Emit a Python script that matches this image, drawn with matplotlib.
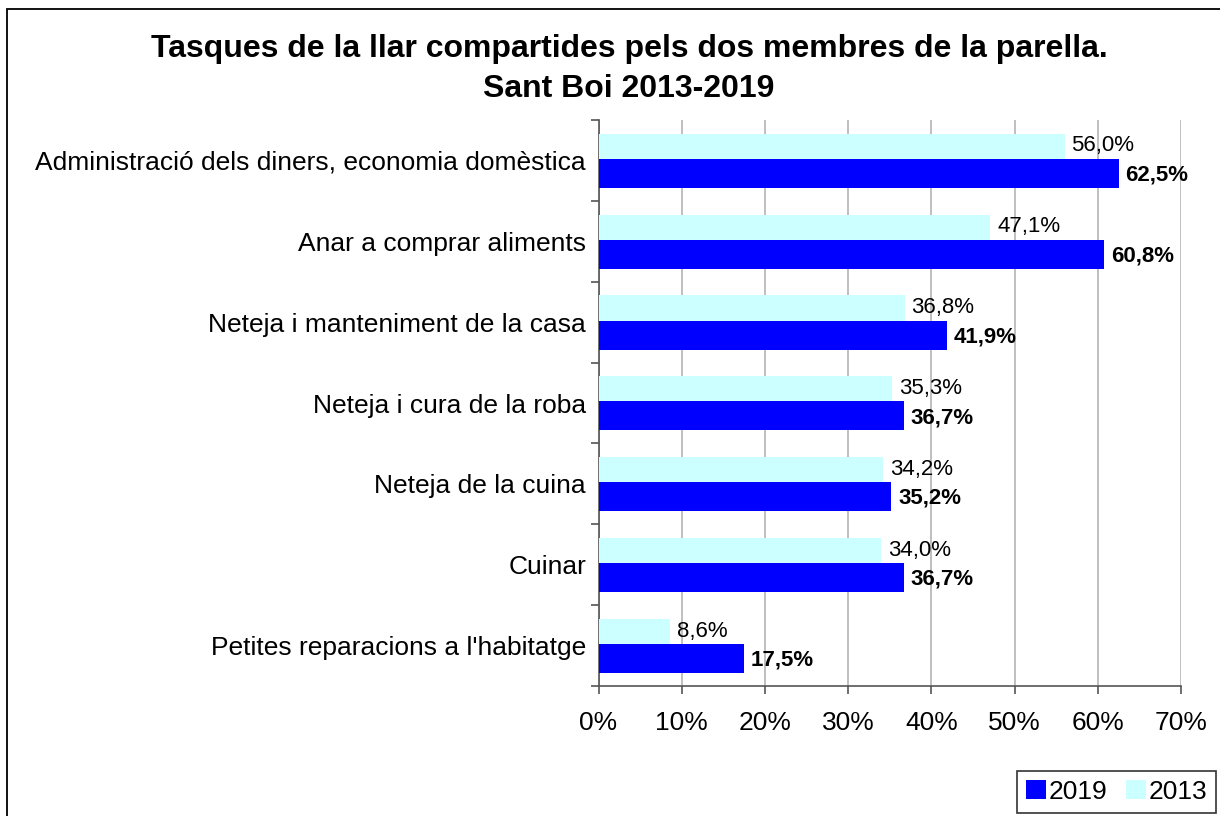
import matplotlib.pyplot as plt
import numpy as np
from matplotlib.patches import Rectangle

plt.rcParams['font.family'] = ['Liberation Sans', 'DejaVu Sans']

categories = [
    "Administració dels diners, economia domèstica",
    "Anar a comprar aliments",
    "Neteja i manteniment de la casa",
    "Neteja i cura de la roba",
    "Neteja de la cuina",
    "Cuinar",
    "Petites reparacions a l'habitatge",
]
values_2019 = [62.5, 60.8, 41.9, 36.7, 35.2, 36.7, 17.5]
values_2013 = [56.0, 47.1, 36.8, 35.3, 34.2, 34.0, 8.6]
xticks = [0, 10, 20, 30, 40, 50, 60, 70]

color_2019 = '#0000FF'
color_2013 = '#CCFFFF'


def fmt(v):
    return "{:.1f}%".format(v).replace('.', ',')


fig = plt.figure(figsize=(12.2, 8.16), dpi=100)
ax = fig.add_axes([598.5 / 1220, 1 - 686 / 816, 582.5 / 1220, 566 / 816])

# outer chart frame (runs off right/bottom edge like the source)
fig.patches.append(Rectangle((7 / 1220, -0.05), 1.1, 1 - 9 / 816 + 0.05,
                             transform=fig.transFigure, fill=False,
                             edgecolor='black', linewidth=1.3))

y = np.arange(len(categories))
b19 = ax.barh(y + 0.16, values_2019, height=0.36, color=color_2019, label='2019', zorder=3)
b13 = ax.barh(y - 0.175, values_2013, height=0.31, color=color_2013, label='2013', zorder=3)

for i, (v19, v13) in enumerate(zip(values_2019, values_2013)):
    ax.text(v19 + 0.8, i + 0.18, fmt(v19), fontsize=16, fontweight='bold',
            va='center', ha='left', zorder=4)
    ax.text(v13 + 0.8, i - 0.18, fmt(v13), fontsize=16,
            va='center', ha='left', zorder=4)

ax.set_ylim(len(categories) - 0.5, -0.5)
ax.set_xlim(0, 70)
ax.set_xticks(xticks)
ax.set_xticklabels([f"{t}%" for t in xticks], fontsize=19)
ax.set_yticks(y)
ax.set_yticklabels(categories, fontsize=19)
ax.set_yticks(np.arange(len(categories) + 1) - 0.5, minor=True)
ax.tick_params(axis='y', which='major', length=0, pad=9)
ax.tick_params(axis='y', which='minor', length=6, color='#555555', width=1.2)
ax.tick_params(axis='x', length=6, color='#555555', width=1.2, pad=12)

ax.xaxis.grid(True, color='#b4b4b4', linewidth=1.2, zorder=0)
for side in ['top', 'right']:
    ax.spines[side].set_visible(False)
for side in ['left', 'bottom']:
    ax.spines[side].set_color('#555555')
    ax.spines[side].set_linewidth(1.2)

fig.text(629 / 1220, 1 - 49 / 816, "Tasques de la llar compartides pels dos membres de la parella.",
         ha='center', va='center', fontsize=23, fontweight='bold')
fig.text(629 / 1220, 1 - 89 / 816, "Sant Boi 2013-2019",
         ha='center', va='center', fontsize=23, fontweight='bold')

leg = fig.legend(handles=[b19, b13], labels=['2019', '2013'], loc='lower right',
                 bbox_to_anchor=(1216 / 1220, 1 - 813 / 816), ncol=2, fontsize=19,
                 frameon=True, fancybox=False, edgecolor='black', handlelength=0.75,
                 handleheight=0.75, handletextpad=0.1, columnspacing=0.7,
                 borderaxespad=0, borderpad=0.35)
leg.get_frame().set_linewidth(1.2)

fig.savefig('out.png', dpi=100)
